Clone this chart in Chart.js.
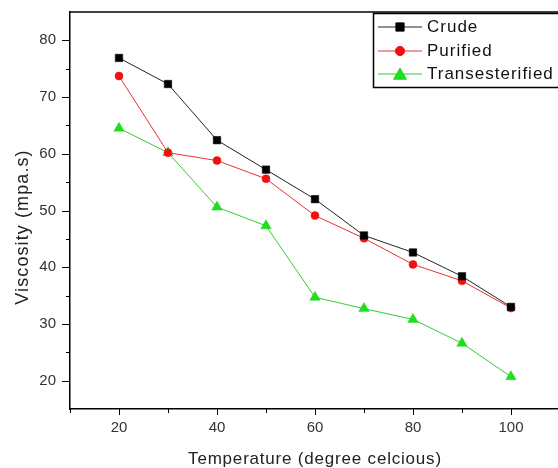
<!DOCTYPE html>
<html>
<head>
<meta charset="utf-8">
<script src="https://cdn.jsdelivr.net/npm/chart.js@4/dist/chart.umd.min.js"></script>
<style>
html,body{margin:0;padding:0;background:#fff;overflow:hidden;width:558px;height:468px;}
canvas{position:absolute;left:0;top:0;}
</style>
</head>
<body>
<canvas id="c" width="558" height="468"></canvas>
<script>
const temperatures = [20, 30, 40, 50, 60, 70, 80, 90, 100];
const crude = [76.9, 72.3, 62.4, 57.2, 52.0, 45.6, 42.6, 38.4, 33.0];
const purified = [73.7, 60.2, 58.8, 55.6, 49.1, 45.1, 40.5, 37.6, 32.8];
const transesterified = [64.5, 60.2, 50.6, 47.3, 34.7, 32.7, 30.8, 26.6, 20.7];
const seriesNames = ['Crude', 'Purified', 'Transesterified'];
const xTickLabels = [20, 40, 60, 80, 100];
const yTickLabels = [20, 30, 40, 50, 60, 70, 80];
const xTitle = 'Temperature (degree celcious)';
const yTitle = 'Viscosity (mpa.s)';

const FONT = '"Liberation Sans", Arial, sans-serif';

function pts(vals){ return temperatures.map((t,i)=>({x:t, y:vals[i]})); }

const frame = {
  id: 'frame',
  afterDraw(chart){
    const {ctx, chartArea:a, scales:{x, y}} = chart;
    ctx.save();
    ctx.strokeStyle = '#000';
    ctx.lineWidth = 1.5;
    ctx.beginPath();
    ctx.moveTo(a.left, a.top); ctx.lineTo(a.right, a.top);
    ctx.stroke();
    ctx.lineWidth = 1;
    for (let v = 10; v <= x.max; v += 10) {
      const px = Math.round(x.getPixelForValue(v)) + 0.5;
      const len = xTickLabels.includes(v) ? 6 : 4;
      ctx.beginPath(); ctx.moveTo(px, a.bottom); ctx.lineTo(px, a.bottom + len); ctx.stroke();
    }
    for (let v = y.min + 5; v < y.max; v += 5) {
      const py = Math.round(y.getPixelForValue(v)) + 0.5;
      const len = yTickLabels.includes(v) ? 8 : 4;
      ctx.beginPath(); ctx.moveTo(a.left - len, py); ctx.lineTo(a.left, py); ctx.stroke();
    }
    ctx.fillStyle = '#222';
    ctx.font = '17px ' + FONT;
    ctx.letterSpacing = '0.8px';
    ctx.textAlign = 'center';
    ctx.textBaseline = 'middle';
    ctx.fillText(xTitle, (a.left + x.getPixelForValue(110)) / 2, 459);
    ctx.save();
    ctx.translate(23, 227);
    ctx.rotate(-Math.PI / 2);
    ctx.font = '18px ' + FONT;
    ctx.letterSpacing = '1.1px';
    ctx.fillText(yTitle, 0, 0);
    ctx.restore();
    const lx = 373.5, ly = 13.5;
    ctx.lineWidth = 1.5;
    ctx.strokeStyle = '#000';
    ctx.strokeRect(lx, ly, 200, 74);
    const rowsY = [27, 51, 74];
    const sizes = [5.8, 4.6, 7.5];
    chart.data.datasets.forEach((ds, i) => {
      const yy = rowsY[i];
      ctx.strokeStyle = ds.borderColor;
      ctx.lineWidth = 1;
      ctx.beginPath(); ctx.moveTo(378, yy); ctx.lineTo(422, yy); ctx.stroke();
      ctx.fillStyle = ds.pointBackgroundColor;
      ctx.strokeStyle = ds.pointBackgroundColor;
      Chart.helpers.drawPoint(ctx, {pointStyle: ds.pointStyle, radius: sizes[i], rotation: 0, borderWidth: 0.5}, 400, yy + (ds.pointStyle === 'triangle' ? 1.5 : 0));
      ctx.fillStyle = '#111';
      ctx.font = '17px ' + FONT;
      ctx.letterSpacing = '1px';
      ctx.textAlign = 'left';
      ctx.textBaseline = 'middle';
      ctx.fillText(ds.label, 427, yy + 0.5);
    });
    ctx.restore();
  }
};

new Chart(document.getElementById('c'), {
  type: 'line',
  data: {
    datasets: [
      {label: seriesNames[0], data: pts(crude), borderColor: '#222', borderWidth: 1,
       pointStyle: 'rect', pointRadius: 5.3, pointBackgroundColor: '#000', pointBorderColor: '#000', pointBorderWidth: 0.5},
      {label: seriesNames[1], data: pts(purified), borderColor: '#e83030', borderWidth: 1,
       pointStyle: 'circle', pointRadius: 4, pointBackgroundColor: '#f01010', pointBorderColor: '#f01010', pointBorderWidth: 0.5},
      {label: seriesNames[2], data: pts(transesterified), borderColor: '#33cc33', borderWidth: 1,
       pointStyle: 'triangle', pointRadius: 6, pointBackgroundColor: '#1fdd1f', pointBorderColor: '#1fdd1f', pointBorderWidth: 0.5}
    ]
  },
  options: {
    responsive: false,
    animation: false,
    devicePixelRatio: 1,
    layout: {autoPadding: false, padding: {top: 12, right: 0, left: 0, bottom: 0}},
    plugins: {legend: {display: false}, tooltip: {enabled: false}},
    scales: {
      x: {
        type: 'linear', min: 10, max: 109.6, position: 'bottom',
        afterFit(s){ s.height = 59; s.paddingLeft = 0; s.paddingRight = 0; },
        afterBuildTicks(s){ s.ticks = xTickLabels.map(v => ({value: v})); },
        grid: {drawOnChartArea: false, drawTicks: false},
        border: {display: true, color: '#000', width: 1.5},
        ticks: {autoSkip: false, maxRotation: 0, padding: 10,
          color: '#333', font: {size: 15, family: FONT}}
      },
      y: {
        min: 15, max: 85,
        afterFit(s){ s.width = 70; s.paddingTop = 0; s.paddingBottom = 0; },
        afterBuildTicks(s){ s.ticks = yTickLabels.map(v => ({value: v})); },
        grid: {drawOnChartArea: false, drawTicks: false},
        border: {display: true, color: '#000', width: 1.5},
        ticks: {autoSkip: false, padding: 14,
          color: '#333', font: {size: 15, family: FONT}}
      }
    }
  },
  plugins: [frame]
});
</script>
</body>
</html>
